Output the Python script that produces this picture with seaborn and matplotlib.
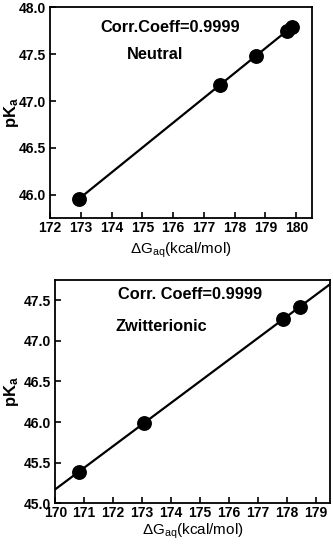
import matplotlib
matplotlib.use("Agg")
import matplotlib.pyplot as plt
import seaborn as sns
import pandas as pd

# Neutral data
neutral_dG = [172.95, 177.52, 178.68, 179.70, 179.86]
neutral_pKa = [45.96, 47.17, 47.48, 47.75, 47.79]
# Zwitterionic data
zwit_dG = [170.82, 173.08, 177.88, 178.47]
zwit_pKa = [45.39, 45.99, 47.27, 47.42]

top_xticks = [172, 173, 174, 175, 176, 177, 178, 179, 180]
top_yticks = [46.0, 46.5, 47.0, 47.5, 48.0]
bot_xticks = [170, 171, 172, 173, 174, 175, 176, 177, 178, 179]
bot_yticks = [45.0, 45.5, 46.0, 46.5, 47.0, 47.5]

sns.set_theme(style="ticks")
plt.rcParams['font.family'] = ['Liberation Sans', 'DejaVu Sans']
plt.rcParams['text.color'] = 'black'
plt.rcParams['axes.labelcolor'] = 'black'
plt.rcParams['xtick.color'] = 'black'
plt.rcParams['ytick.color'] = 'black'
plt.rcParams['mathtext.fontset'] = 'custom'
plt.rcParams['mathtext.rm'] = 'Liberation Sans:weight=normal'
plt.rcParams['mathtext.bf'] = 'Liberation Sans:weight=bold'
plt.rcParams['mathtext.it'] = 'Liberation Sans:style=italic'

fig = plt.figure(figsize=(3.33, 5.5), dpi=100)
ax1 = fig.add_axes([0.150, 0.603, 0.786, 0.384])
ax2 = fig.add_axes([0.166, 0.085, 0.825, 0.406])

df1 = pd.DataFrame({"dG": neutral_dG, "pKa": neutral_pKa})
df2 = pd.DataFrame({"dG": zwit_dG, "pKa": zwit_pKa})

ax1.set_xlim(172, 180.5)
ax1.set_ylim(45.75, 48.0)
ax2.set_xlim(170, 179.5)
ax2.set_ylim(45.0, 47.75)

sns.regplot(data=df1, x="dG", y="pKa", ax=ax1, ci=None, truncate=True,
            scatter_kws=dict(s=115, color='black', alpha=1, zorder=3, linewidths=0),
            line_kws=dict(color='black', lw=1.6))
sns.regplot(data=df2, x="dG", y="pKa", ax=ax2, ci=None, truncate=False,
            scatter_kws=dict(s=115, color='black', alpha=1, zorder=3, linewidths=0),
            line_kws=dict(color='black', lw=1.6))

def style(ax, xlim, ylim, xt, yt, xpad, ylx):
    ax.set_xlim(*xlim)
    ax.set_ylim(*ylim)
    ax.set_xticks(xt)
    ax.set_yticks(yt)
    ax.set_xticklabels([str(v) for v in xt])
    ax.set_yticklabels(["{:.1f}".format(v) for v in yt])
    ax.tick_params(direction='in', length=4, width=1.2, labelsize=10, pad=3,
                   colors='black')
    ax.tick_params(axis='x', pad=2)
    for sp in ax.spines.values():
        sp.set_linewidth(1.3)
        sp.set_color('black')
        sp.set_visible(True)
    ax.set_xlabel(r'$\Delta$G$_{\mathrm{aq}}$(kcal/mol)', fontsize=11,
                  fontweight='normal', labelpad=xpad, color='black')
    ax.set_ylabel(r'pK$_{\mathbf{a}}$', fontsize=12, fontweight='bold',
                  color='black')
    ax.yaxis.set_label_coords(ylx, 0.5)

style(ax1, (172, 180.5), (45.75, 48.0), top_xticks, top_yticks, 4, -0.112)
style(ax2, (170, 179.5), (45.0, 47.75), bot_xticks, bot_yticks, 1, -0.125)

ax1.text(0.46, 0.905, "Corr.Coeff=0.9999", transform=ax1.transAxes,
         ha='center', va='center', fontsize=11.8, fontweight='bold', color='black')
ax1.text(0.293, 0.778, "Neutral", transform=ax1.transAxes,
         ha='left', va='center', fontsize=11.8, fontweight='bold', color='black')
ax2.text(0.49, 0.937, "Corr. Coeff=0.9999", transform=ax2.transAxes,
         ha='center', va='center', fontsize=11.8, fontweight='bold', color='black')
ax2.text(0.218, 0.791, "Zwitterionic", transform=ax2.transAxes,
         ha='left', va='center', fontsize=11.8, fontweight='bold', color='black')

for ax in (ax1, ax2):
    for lab in ax.get_xticklabels() + ax.get_yticklabels():
        lab.set_fontweight('bold')
        lab.set_color('black')

fig.savefig("out.png", dpi=100, facecolor='white')
